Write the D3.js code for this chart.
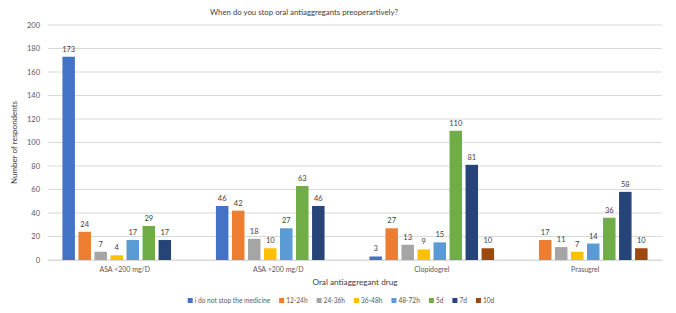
<!DOCTYPE html>
<html>
<head>
<meta charset="utf-8">
<script src="https://cdn.jsdelivr.net/npm/d3@7"></script>
<style>
  body { margin: 0; background: #fff; }
  text { font-family: Lato, "Open Sans", sans-serif; }
</style>
</head>
<body>
<div id="chart"></div>
<script>
var drugs = ["ASA <200 mg/D", "ASA >200 mg/D", "Clopidogrel", "Prasugrel"];
var series = ["i do not stop the medicine", "12-24h", "24-36h", "36-48h", "48-72h", "5d", "7d", "10d"];
var colors = ["#4472C4", "#ED7D31", "#A5A5A5", "#FFC000", "#5B9BD5", "#70AD47", "#264478", "#9E480E"];
// one array per drug, in series order (0 = no bar)
var asaLow = [173, 24, 7, 4, 17, 29, 17, 0];
var asaHigh = [46, 42, 18, 10, 27, 63, 46, 0];
var clopidogrel = [3, 27, 13, 9, 15, 110, 81, 10];
var prasugrel = [0, 17, 11, 7, 14, 36, 58, 10];
var yTicks = [0, 20, 40, 60, 80, 100, 120, 140, 160, 180, 200];

var values = [asaLow, asaHigh, clopidogrel, prasugrel];

var W = 676, H = 313;
var margin = {top: 25, right: 14, bottom: 53, left: 48},
    width = W - margin.left - margin.right,
    height = H - margin.top - margin.bottom;

var svg = d3.select("#chart").append("svg")
    .attr("width", W).attr("height", H);

var g = svg.append("g")
    .attr("transform", "translate(" + margin.left + "," + margin.top + ")");

var x0 = d3.scaleBand().domain(drugs).range([0, width]).padding(0);
var x1 = d3.scaleBand().domain(series).range([0, x0.bandwidth()])
    .paddingInner(0.22).paddingOuter(0.9);
var y = d3.scaleLinear().domain([0, 200]).range([height, 0]);
var color = d3.scaleOrdinal().domain(series).range(colors);

// gridlines
g.append("g").selectAll("line")
  .data(yTicks)
  .enter().append("line")
    .attr("x1", 0).attr("x2", width)
    .attr("y1", function(d) { return y(d); })
    .attr("y2", function(d) { return y(d); })
    .attr("stroke", "#d9d9d9").attr("stroke-width", 1);

// y axis labels
var yAxis = g.append("g")
    .call(d3.axisLeft(y).tickValues(yTicks).tickSize(0).tickPadding(8));
yAxis.select(".domain").remove();
yAxis.selectAll("text").attr("fill", "#595959").style("font-size", "7.5px")
    .style("font-family", "Lato, sans-serif");

// x axis labels
var xAxis = g.append("g")
    .attr("transform", "translate(0," + height + ")")
    .call(d3.axisBottom(x0).tickSize(0).tickPadding(7));
xAxis.select(".domain").attr("stroke", "#d9d9d9");
xAxis.selectAll("text").attr("fill", "#595959").style("font-size", "7px")
    .style("font-family", "Lato, sans-serif");

// bars
var groups = g.selectAll(".grp")
  .data(drugs)
  .enter().append("g")
    .attr("class", "grp")
    .attr("transform", function(d) { return "translate(" + x0(d) + ",0)"; });

var cells = groups.selectAll(".cell")
  .data(function(d, i) {
    return series.map(function(s, j) { return {key: s, value: values[i][j]}; })
      .filter(function(c) { return c.value > 0; });
  })
  .enter();

cells.append("rect")
    .attr("x", function(d) { return x1(d.key); })
    .attr("y", function(d) { return y(d.value); })
    .attr("width", x1.bandwidth())
    .attr("height", function(d) { return height - y(d.value); })
    .attr("fill", function(d) { return color(d.key); });

cells.append("text")
    .attr("x", function(d) { return x1(d.key) + x1.bandwidth() / 2; })
    .attr("y", function(d) { return y(d.value) - 5; })
    .attr("text-anchor", "middle")
    .attr("fill", "#404040")
    .style("font-size", "7.5px")
    .text(function(d) { return d.value; });

// titles
svg.append("text")
    .attr("x", 304).attr("y", 15)
    .attr("text-anchor", "middle")
    .attr("fill", "#404040")
    .style("font-size", "7.8px")
    .text("When do you stop oral antiaggregants preoperartively?");

svg.append("text")
    .attr("transform", "translate(17," + (margin.top + height / 2) + ") rotate(-90)")
    .attr("text-anchor", "middle")
    .attr("fill", "#404040")
    .style("font-size", "8px")
    .text("Number of respondents");

svg.append("text")
    .attr("x", margin.left + width / 2).attr("y", 285)
    .attr("text-anchor", "middle")
    .attr("fill", "#404040")
    .style("font-size", "8.2px")
    .text("Oral antiaggregant drug");

// legend
var legend = svg.append("g");
var lx = 0;
series.forEach(function(s) {
  var item = legend.append("g").attr("transform", "translate(" + lx + ",0)");
  item.append("rect").attr("x", 0).attr("y", -5).attr("width", 5).attr("height", 5)
      .attr("fill", color(s));
  var t = item.append("text").attr("x", 7).attr("y", 0)
      .attr("fill", "#595959").style("font-size", "6.6px").text(s);
  lx += 7 + t.node().getComputedTextLength() + 9;
});
var legendW = lx - 9;
legend.attr("transform", "translate(" + (341 - legendW / 2) + ",303)");
</script>
</body>
</html>
